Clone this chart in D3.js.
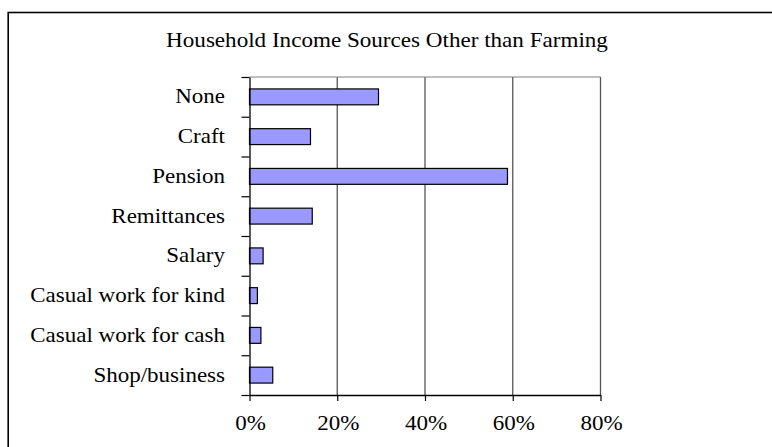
<!DOCTYPE html>
<html>
<head>
<meta charset="utf-8">
<script src="https://cdn.jsdelivr.net/npm/d3@7"></script>
<style>
  html, body { margin: 0; padding: 0; background: #fff; }
  svg { display: block; }
  text { font-family: "Liberation Serif", "Times New Roman", serif; fill: #000; }
</style>
</head>
<body>
<script>
// Household income sources other than farming (share of households, %)
const chartTitle = "Household Income Sources Other than Farming";
const categories = ["None", "Craft", "Pension", "Remittances", "Salary",
  "Casual work for kind", "Casual work for cash", "Shop/business"];
const shares = [29.4, 13.9, 58.8, 14.3, 3.1, 1.8, 2.6, 5.3];
const xTicks = [0, 20, 40, 60, 80];

const W = 772, H = 447;
const plot = { left: 249.5, right: 600.5, top: 77, bottom: 395 };
const stretch = 1.15; // horizontal widening of the serif lettering

const svg = d3.select("body").append("svg")
  .attr("width", W).attr("height", H);

svg.append("rect").attr("width", W).attr("height", H).attr("fill", "#fff");

// outer chart frame (runs off the right and bottom edges)
svg.append("rect")
  .attr("x", 8.2).attr("y", 12.5)
  .attr("width", 900).attr("height", 600)
  .attr("fill", "none").attr("stroke", "#000").attr("stroke-width", 1.6);

// title
svg.append("text")
  .attr("transform", `translate(387,47) scale(1.1,1)`)
  .attr("text-anchor", "middle")
  .style("font-size", "21px")
  .text(chartTitle);

const x = d3.scaleLinear().domain([0, 80]).range([plot.left, plot.right]);
const y = d3.scaleBand().domain(categories).range([plot.top, plot.bottom]).paddingInner(0.6).paddingOuter(0.3);
const yEdge = d3.scaleLinear().domain([0, categories.length]).range([plot.top, plot.bottom]);

// vertical gridlines
svg.append("g").selectAll("line")
  .data(xTicks.slice(1))
  .join("line")
  .attr("x1", d => x(d)).attr("x2", d => x(d))
  .attr("y1", plot.top).attr("y2", plot.bottom)
  .attr("stroke", "#555").attr("stroke-width", 1.3);

// plot area top edge
svg.append("line")
  .attr("x1", plot.left).attr("x2", plot.right)
  .attr("y1", plot.top).attr("y2", plot.top)
  .attr("stroke", "#808080").attr("stroke-width", 1.2);

// bars
svg.append("g").selectAll("rect")
  .data(categories.map((c, i) => ({ c, v: shares[i] })))
  .join("rect")
  .attr("x", x(0))
  .attr("y", d => y(d.c))
  .attr("width", d => x(d.v) - x(0))
  .attr("height", y.bandwidth())
  .attr("fill", "#9999ff")
  .attr("stroke", "#000").attr("stroke-width", 1.2);

// category axis: ticks at band boundaries
const yAxis = svg.append("g")
  .attr("transform", `translate(${plot.left},0)`)
  .call(d3.axisLeft(yEdge).tickValues(d3.range(categories.length + 1)).tickSize(8).tickSizeOuter(0).tickFormat(""));
yAxis.select(".domain").attr("stroke", "#000").attr("stroke-width", 1.3);
yAxis.selectAll(".tick line").attr("stroke", "#000").attr("stroke-width", 1.2);

// category labels
svg.append("g").selectAll("text")
  .data(categories)
  .join("text")
  .attr("transform", d => `translate(225,${y(d) + y.bandwidth() / 2 + 6.5}) scale(${stretch},1)`)
  .attr("text-anchor", "end")
  .style("font-size", "20px")
  .text(d => d);

// value axis
const xAxis = svg.append("g")
  .attr("transform", `translate(0,${plot.bottom})`)
  .call(d3.axisBottom(x).tickValues(xTicks).tickSize(6).tickSizeOuter(0).tickFormat(""));
xAxis.select(".domain").attr("stroke", "#000").attr("stroke-width", 1.3);
xAxis.selectAll(".tick line").attr("stroke", "#000").attr("stroke-width", 1.2);

svg.append("g").selectAll("text")
  .data(xTicks)
  .join("text")
  .attr("transform", d => `translate(${x(d) + 1},430) scale(${stretch},1)`)
  .attr("text-anchor", "middle")
  .style("font-size", "20px")
  .text(d => d + "%");
</script>
</body>
</html>
